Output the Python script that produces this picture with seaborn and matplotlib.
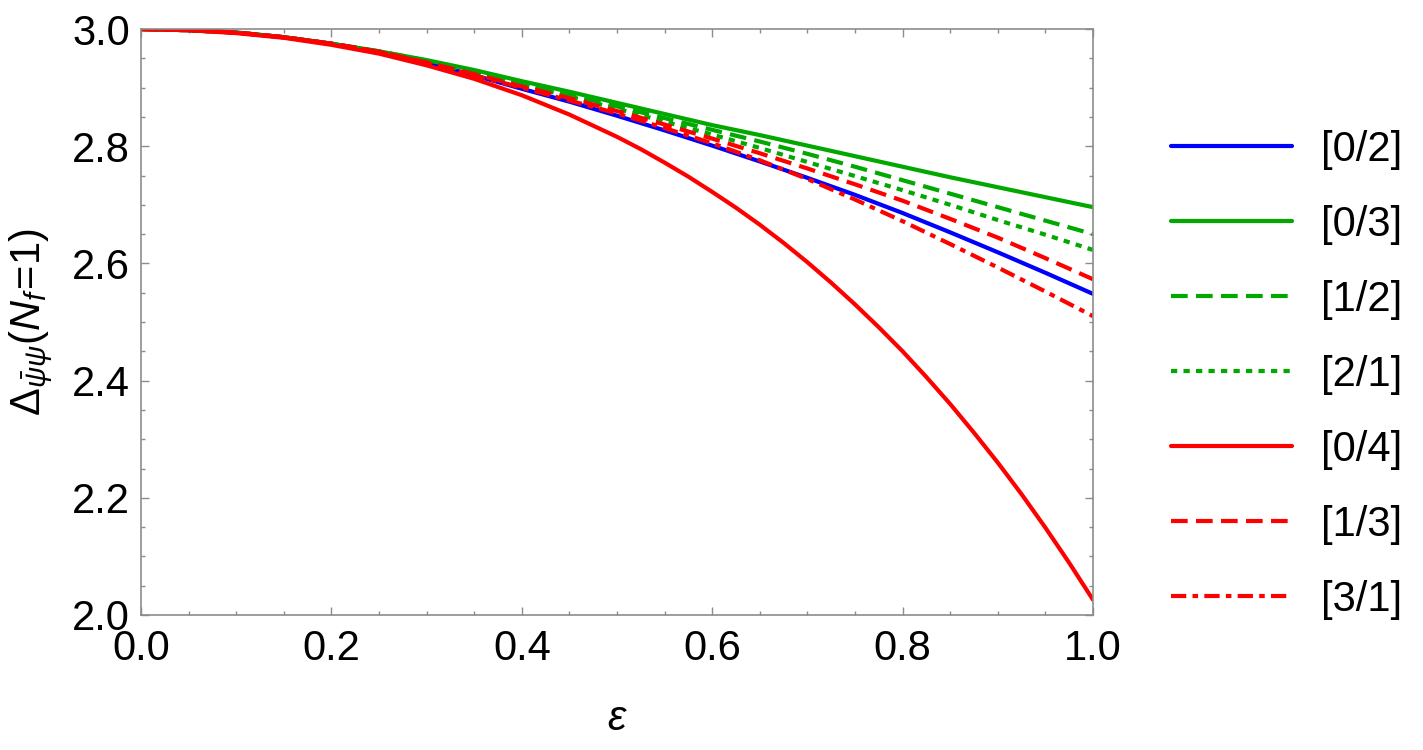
import numpy as np
import pandas as pd
import seaborn as sns
import matplotlib.pyplot as plt
from matplotlib.ticker import MultipleLocator

# --- dados (epsilon de 0 a 1, passo 0.05) ---
eps = [0.00, 0.05, 0.10, 0.15, 0.20, 0.25, 0.30, 0.35, 0.40, 0.45, 0.50,
       0.55, 0.60, 0.65, 0.70, 0.75, 0.80, 0.85, 0.90, 0.95, 1.00]

pade_02 = [3.000, 2.998, 2.994, 2.986, 2.975, 2.961, 2.942, 2.921, 2.898, 2.876, 2.852,
           2.827, 2.801, 2.774, 2.746, 2.717, 2.686, 2.653, 2.619, 2.584, 2.548]
pade_03 = [3.000, 2.998, 2.994, 2.986, 2.975, 2.962, 2.947, 2.930, 2.911, 2.893, 2.874,
           2.855, 2.836, 2.819, 2.801, 2.783, 2.765, 2.747, 2.730, 2.713, 2.696]
pade_12 = [3.000, 2.998, 2.994, 2.986, 2.975, 2.962, 2.946, 2.928, 2.907, 2.888, 2.868,
           2.848, 2.828, 2.808, 2.787, 2.765, 2.742, 2.719, 2.696, 2.673, 2.650]
pade_21 = [3.000, 2.998, 2.994, 2.986, 2.975, 2.961, 2.945, 2.926, 2.905, 2.885, 2.864,
           2.842, 2.820, 2.797, 2.773, 2.749, 2.725, 2.700, 2.674, 2.649, 2.623]
pade_13 = [3.000, 2.998, 2.994, 2.986, 2.975, 2.961, 2.943, 2.923, 2.902, 2.882, 2.860,
           2.837, 2.813, 2.788, 2.762, 2.735, 2.707, 2.676, 2.644, 2.609, 2.573]
pade_31 = [3.000, 2.998, 2.994, 2.986, 2.975, 2.961, 2.942, 2.921, 2.900, 2.878, 2.856,
           2.831, 2.805, 2.776, 2.744, 2.709, 2.672, 2.633, 2.593, 2.552, 2.510]

# [0/4] cai rapido: lido com passo mais fino na parte final
eps_04 = [0.00, 0.05, 0.10, 0.15, 0.20, 0.25, 0.30, 0.35, 0.40, 0.45, 0.50,
          0.525, 0.55, 0.575, 0.60, 0.625, 0.65, 0.675, 0.70, 0.725, 0.75,
          0.775, 0.80, 0.825, 0.85, 0.875, 0.90, 0.925, 0.95, 0.975, 1.00]
pade_04 = [3.000, 2.998, 2.993, 2.985, 2.973, 2.958, 2.938, 2.915, 2.887, 2.854, 2.816,
           2.795, 2.772, 2.748, 2.722, 2.695, 2.666, 2.635, 2.602, 2.567, 2.530,
           2.491, 2.450, 2.406, 2.360, 2.311, 2.260, 2.206, 2.149, 2.089, 2.026]

labels = ['[0/2]', '[0/3]', '[1/2]', '[2/1]', '[0/4]', '[1/3]', '[3/1]']
xs = [eps, eps, eps, eps, eps_04, eps, eps]
series = [pade_02, pade_03, pade_12, pade_21, pade_04, pade_13, pade_31]

cores = {'[0/2]': '#0000ff', '[0/3]': '#00a800', '[1/2]': '#00a800', '[2/1]': '#00a800',
         '[0/4]': '#ff0000', '[1/3]': '#ff0000', '[3/1]': '#ff0000'}
estilos = {'[0/2]': '-', '[0/3]': '-', '[1/2]': (0, (12, 6)), '[2/1]': (0, (4.5, 4.5)),
           '[0/4]': '-', '[1/3]': (0, (12, 6)), '[3/1]': (0, (11, 4.5, 4, 4.5))}

df = pd.DataFrame({'eps': np.concatenate(xs),
                   'delta': np.concatenate(series),
                   'aprox': np.repeat(labels, [len(x) for x in xs])})

sns.set_style('ticks')
plt.rcParams['font.family'] = ['Liberation Sans', 'DejaVu Sans']
plt.rcParams['mathtext.fontset'] = 'custom'
plt.rcParams['mathtext.rm'] = 'Liberation Sans'
plt.rcParams['mathtext.it'] = 'Liberation Sans:italic'
plt.rcParams['lines.scale_dashes'] = False
plt.rcParams['text.color'] = 'black'
plt.rcParams['axes.labelcolor'] = 'black'

fig = plt.figure(figsize=(14.23, 7.5), dpi=100)
ax = fig.add_axes([0.0991, 0.18, 0.669, 0.7813])

for lab in labels:
    sub = df[df['aprox'] == lab]
    sns.lineplot(data=sub, x='eps', y='delta', color=cores[lab], linestyle=estilos[lab],
                 linewidth=3, estimator=None, label=lab, ax=ax, legend=False)

ax.set_xlim(0, 1)
ax.set_ylim(2.0, 3.0)
ax.xaxis.set_major_locator(MultipleLocator(0.2))
ax.xaxis.set_minor_locator(MultipleLocator(0.05))
ax.yaxis.set_major_locator(MultipleLocator(0.2))
ax.yaxis.set_minor_locator(MultipleLocator(0.05))
ax.xaxis.set_major_formatter(plt.FormatStrFormatter('%.1f'))
ax.yaxis.set_major_formatter(plt.FormatStrFormatter('%.1f'))

for s in ax.spines.values():
    s.set_color('#8c8c8c')
    s.set_linewidth(1.2)
ax.tick_params(which='both', direction='in', top=True, right=True, color='#8c8c8c', width=1,
               labelcolor='black')
ax.tick_params(which='major', length=6, labelsize=30)
ax.tick_params(axis='x', which='major', pad=10)
ax.tick_params(axis='y', which='major', pad=8)
ax.tick_params(which='minor', length=3)

ax.set_xlabel(r'$\epsilon$', fontsize=30, labelpad=22)
ax.set_ylabel(r'$\Delta_{\bar{\psi}\psi}(N_f\!=\!1)$', fontsize=30, labelpad=12)

handles, _ = ax.get_legend_handles_labels()
fig.legend(handles, labels, loc='center left', bbox_to_anchor=(0.823, 0.500),
           frameon=False, fontsize=30, handlelength=2.9, handletextpad=0.7,
           labelspacing=0.84, borderpad=0, borderaxespad=0)

plt.savefig('out.png', dpi=100)
